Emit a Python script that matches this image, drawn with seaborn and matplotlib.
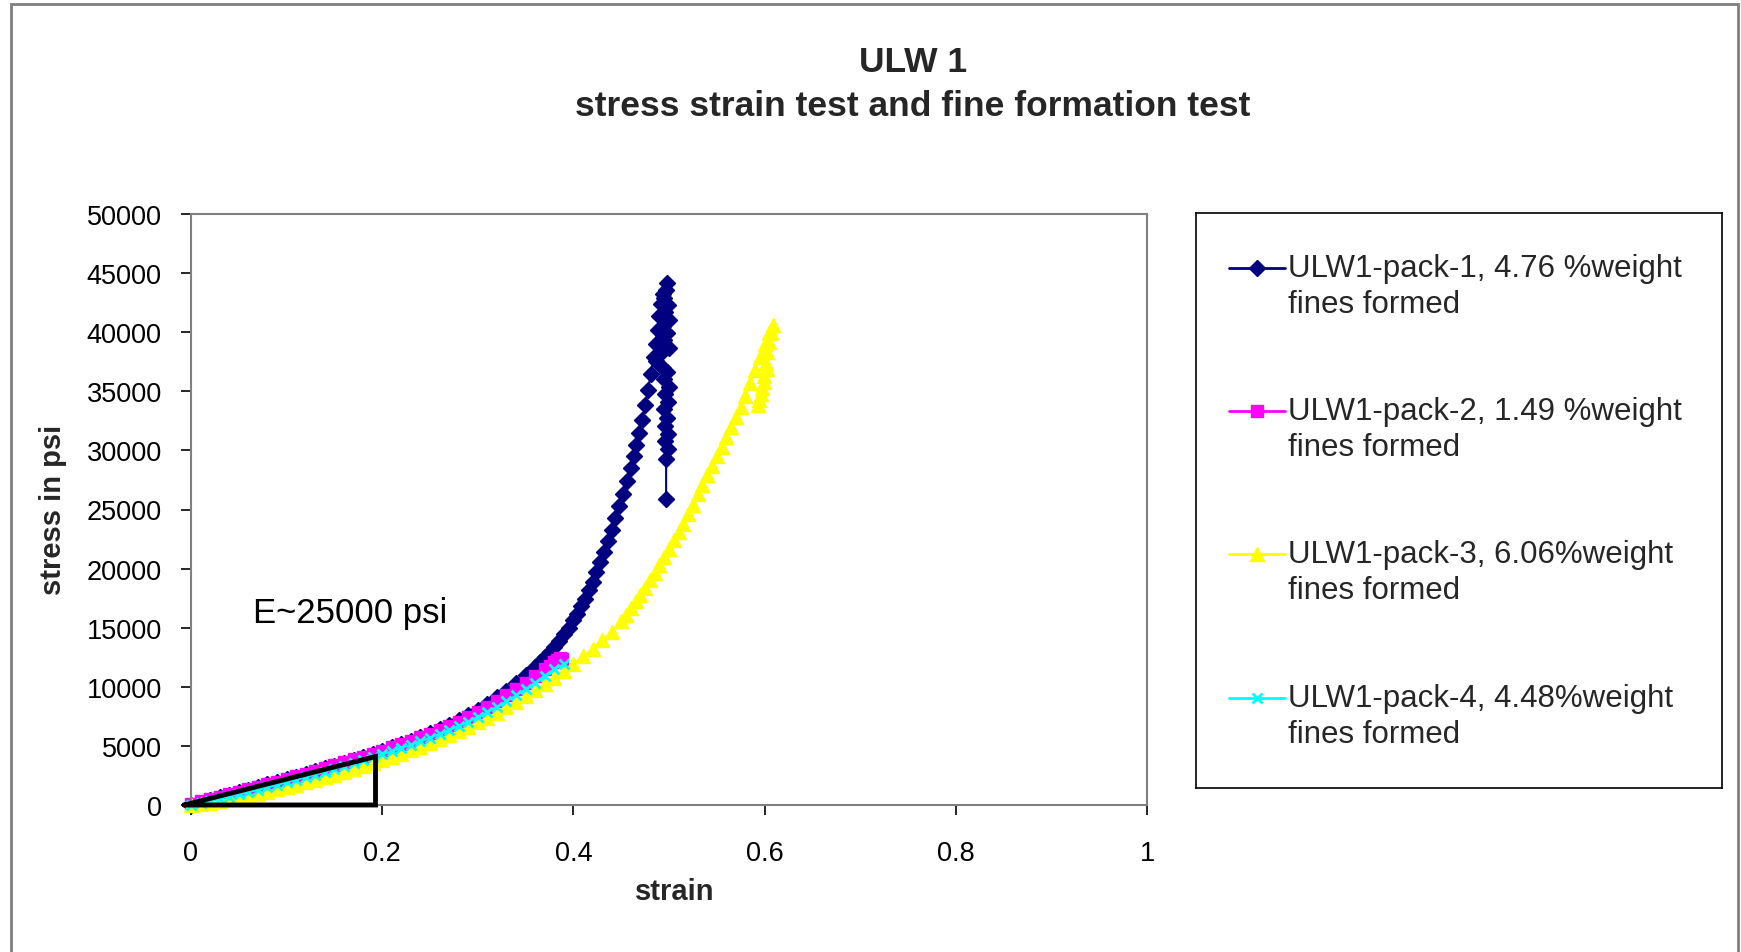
import numpy as np
import pandas as pd
import matplotlib
matplotlib.use("Agg")
import matplotlib.pyplot as plt
from matplotlib.patches import Rectangle
import seaborn as sns

# ---- measured data: strain (in/in) vs. stress (psi) ----
pack1_strain = [0.00, 0.01, 0.02, 0.03, 0.04, 0.05, 0.06, 0.07, 0.08, 0.09,
                0.10, 0.11, 0.12, 0.13, 0.14, 0.15, 0.16, 0.17, 0.18, 0.19,
                0.20, 0.21, 0.22, 0.23, 0.24, 0.25, 0.26, 0.27, 0.28, 0.29,
                0.30, 0.31, 0.32, 0.33, 0.34, 0.35, 0.36, 0.365, 0.37, 0.375,
                0.38, 0.385, 0.39, 0.395, 0.400, 0.404, 0.408, 0.412, 0.416, 0.420,
                0.424, 0.428, 0.432, 0.436, 0.440, 0.444, 0.448, 0.452, 0.456, 0.460,
                0.463, 0.466, 0.469, 0.472, 0.475, 0.478, 0.481, 0.484, 0.486, 0.488,
                0.490, 0.492, 0.494, 0.4976,
                0.497, 0.495, 0.499, 0.496, 0.4995, 0.494, 0.498, 0.495, 0.4995, 0.492,
                0.486, 0.494, 0.498, 0.495, 0.4995, 0.496, 0.499, 0.495, 0.498, 0.496,
                0.499, 0.496, 0.499, 0.497, 0.497]
pack1_stress = [0, 200, 420, 640, 860, 1080, 1300, 1520, 1740, 1960,
                2180, 2400, 2630, 2860, 3090, 3330, 3580, 3830, 4080, 4340,
                4600, 4870, 5150, 5440, 5740, 6060, 6400, 6770, 7170, 7600,
                8060, 8560, 9100, 9680, 10300, 10970, 11700, 12100, 12500, 12950,
                13400, 13900, 14450, 15000, 15650, 16200, 16800, 17450, 18150, 18900,
                19700, 20550, 21400, 22300, 23300, 24300, 25300, 26350, 27400, 28500,
                29500, 30450, 31450, 32600, 33800, 35100, 36500, 37900, 39000, 40200,
                41400, 42400, 43200, 44200,
                43600, 42900, 42300, 41700, 41000, 40500, 39900, 39300, 38700, 38200,
                37600, 37000, 36600, 36000, 35400, 34800, 34100, 33500, 32700, 32100,
                31400, 30800, 30100, 29300, 25850]

pack2_strain = [0.00, 0.01, 0.02, 0.03, 0.04, 0.05, 0.06, 0.07, 0.08, 0.09,
                0.10, 0.11, 0.12, 0.13, 0.14, 0.15, 0.16, 0.17, 0.18, 0.19,
                0.20, 0.21, 0.22, 0.23, 0.24, 0.25, 0.26, 0.27, 0.28, 0.29,
                0.30, 0.31, 0.32, 0.33, 0.34, 0.35, 0.36, 0.37, 0.375, 0.38,
                0.383, 0.386, 0.388, 0.385]
pack2_stress = [100, 300, 500, 700, 900, 1100, 1320, 1540, 1760, 1980,
                2200, 2420, 2650, 2880, 3110, 3350, 3600, 3850, 4100, 4350,
                4600, 4870, 5150, 5430, 5720, 6030, 6350, 6700, 7060, 7440,
                7850, 8300, 8780, 9280, 9800, 10350, 10900, 11500, 11800, 12100,
                12300, 12400, 12350, 12200]

pack3_strain = [0.00, 0.01, 0.02, 0.03, 0.04, 0.05, 0.06, 0.07, 0.08, 0.09,
                0.10, 0.11, 0.12, 0.13, 0.14, 0.15, 0.16, 0.17, 0.18, 0.19,
                0.20, 0.21, 0.22, 0.23, 0.24, 0.25, 0.26, 0.27, 0.28, 0.29,
                0.30, 0.31, 0.32, 0.33, 0.34, 0.35, 0.36, 0.37, 0.38, 0.39,
                0.40, 0.41, 0.42, 0.43, 0.44, 0.45, 0.455, 0.46, 0.465, 0.47,
                0.475, 0.48, 0.485, 0.49, 0.495, 0.50, 0.505, 0.51, 0.515, 0.52,
                0.525, 0.53, 0.535, 0.54, 0.545, 0.55, 0.555, 0.56, 0.565, 0.57,
                0.575, 0.58, 0.585, 0.59, 0.595, 0.60, 0.605, 0.609,
                0.607, 0.605, 0.603, 0.601, 0.599, 0.597, 0.594, 0.593, 0.596, 0.599,
                0.602]
pack3_stress = [0, 80, 200, 330, 470, 620, 780, 950, 1130, 1320,
                1510, 1710, 1910, 2120, 2340, 2560, 2790, 3030, 3270, 3520,
                3780, 4050, 4330, 4620, 4920, 5230, 5550, 5890, 6240, 6610,
                7000, 7400, 7820, 8260, 8720, 9200, 9700, 10220, 10770, 11340,
                11940, 12570, 13230, 13930, 14670, 15550, 16100, 16700, 17250, 17800,
                18400, 19000, 19650, 20300, 21000, 21700, 22400, 23100, 23800, 24600,
                25400, 26300, 27100, 27900, 28700, 29500, 30300, 31100, 31950, 32800,
                33700, 34600, 35700, 36800, 37900, 39000, 39900, 40600,
                40000, 39200, 38300, 37400, 36300, 35300, 34300, 33800, 34800, 35800,
                36900]

pack4_strain = [0.00, 0.01, 0.02, 0.03, 0.04, 0.05, 0.06, 0.07, 0.08, 0.09,
                0.10, 0.11, 0.12, 0.13, 0.14, 0.15, 0.16, 0.17, 0.18, 0.19,
                0.20, 0.21, 0.22, 0.23, 0.24, 0.25, 0.26, 0.27, 0.28, 0.29,
                0.30, 0.31, 0.32, 0.33, 0.34, 0.35, 0.36, 0.37, 0.38, 0.39]
pack4_stress = [0, 150, 330, 510, 700, 890, 1090, 1290, 1500, 1710,
                1920, 2140, 2360, 2580, 2810, 3040, 3280, 3520, 3770, 4020,
                4280, 4540, 4810, 5090, 5380, 5680, 6000, 6330, 6680, 7050,
                7440, 7860, 8300, 8770, 9270, 9800, 10350, 10920, 11500, 11900]

series_labels = ["ULW1-pack-1, 4.76 %weight", "ULW1-pack-2, 1.49 %weight",
                 "ULW1-pack-3, 6.06%weight", "ULW1-pack-4, 4.48%weight"]
series_note = "fines formed"

# modulus guide triangle (strain, stress)
tri_strain = [-0.007, 0.193, 0.193, -0.007]
tri_stress = [0, 4100, 0, 0]

x_ticks = [0, 0.2, 0.4, 0.6, 0.8, 1]
x_tick_labels = ["0", "0.2", "0.4", "0.6", "0.8", "1"]
y_ticks = list(range(0, 50001, 5000))

# ---- styling ----
sns.set_theme(style="white")
plt.rcParams["font.family"] = ["Liberation Sans", "DejaVu Sans"]

W, H = 1741, 953
fig = plt.figure(figsize=(W / 100, H / 100), dpi=100)
fig.patch.set_facecolor("white")

# chart-area border
fig.add_artist(Rectangle((11 / W, -0.05), (1738 - 11) / W, 1.05 - 5 / H,
                         transform=fig.transFigure, fill=False,
                         edgecolor="#7f7f7f", linewidth=2))

ax = fig.add_axes([191 / W, 1 - 806 / H, 956 / W, 591 / H])

styles = [
    dict(color="#000080", marker="D", markersize=8.5, mec="#000080", mew=1),
    dict(color="#FF00FF", marker="s", markersize=8, mec="#FF00FF", mew=1),
    dict(color="#FFFF00", marker="^", markersize=10.5, mec="#FFFF00", mew=1),
    dict(color="#00FFFF", marker="x", markersize=7, mec="#00FFFF", mew=2),
]
data = [(pack1_strain, pack1_stress), (pack2_strain, pack2_stress),
        (pack3_strain, pack3_stress), (pack4_strain, pack4_stress)]

for (xs, ys), st, lab in zip(data, styles, series_labels):
    df = pd.DataFrame({"strain": xs, "stress": ys})
    sns.lineplot(data=df, x="strain", y="stress", sort=False, estimator=None,
                 ax=ax, linewidth=1.5, clip_on=False, label=lab, **st)

ax.plot(tri_strain, tri_stress, color="black", linewidth=3.5, solid_joinstyle="miter",
        clip_on=False, zorder=5)

ax.text(0.065, 16250, "E~25000 psi", fontsize=25, va="center", ha="left", color="black")

ax.set_xlim(0, 1)
ax.set_ylim(0, 50000)
ax.set_xticks(x_ticks)
ax.set_xticklabels(x_tick_labels)
ax.set_yticks(y_ticks)
ax.tick_params(axis="both", which="major", direction="out", length=7, width=1.2,
               color="black", labelsize=19.5, labelcolor="black",
               bottom=True, left=True)
ax.tick_params(axis="x", pad=18)
ax.tick_params(axis="y", pad=14)
for sp in ax.spines.values():
    sp.set_color("#808080")
    sp.set_linewidth(1.5)
ax.grid(False)
ax.set_facecolor("white")
if ax.get_legend() is not None:
    ax.get_legend().remove()

ax.set_xlabel("strain", fontsize=21, fontweight="bold", va="center")
ax.xaxis.set_label_coords((675 - 191) / 956, (806 - 892) / 591)
ax.set_ylabel("stress in psi", fontsize=21, fontweight="bold", va="center")
ax.yaxis.set_label_coords((53 - 191) / 956, (806 - 510) / 591)

fig.text(913 / W, 1 - 63 / H, "ULW 1", fontsize=25.5, fontweight="bold",
         ha="center", va="center")
fig.text(913 / W, 1 - 107 / H, "stress strain test and fine formation test",
         fontsize=25.5, fontweight="bold", ha="center", va="center")

# legend panel
lx0, ly0, lx1, ly1 = 1196, 214, 1722, 789
lax = fig.add_axes([lx0 / W, 1 - ly1 / H, (lx1 - lx0) / W, (ly1 - ly0) / H])
lax.set_xlim(0, lx1 - lx0)
lax.set_ylim(ly1 - ly0, 0)
lax.set_xticks([])
lax.set_yticks([])
lax.set_facecolor("white")
for sp in lax.spines.values():
    sp.set_color("black")
    sp.set_linewidth(1.2)
    sp.set_visible(True)
entry_y = [55, 198, 341, 485]
for y, st, lab in zip(entry_y, styles, series_labels):
    lax.plot([33, 89], [y, y], color=st["color"], linewidth=2)
    lax.plot([61], [y], linestyle="none", marker=st["marker"], markersize=st["markersize"],
             color=st["color"], mec=st["mec"], mew=st["mew"])
    lax.text(92, y, lab, fontsize=22.5, va="center", ha="left")
    lax.text(92, y + 36, series_note, fontsize=22.5, va="center", ha="left")

fig.savefig("out.png", dpi=100, facecolor="white")
